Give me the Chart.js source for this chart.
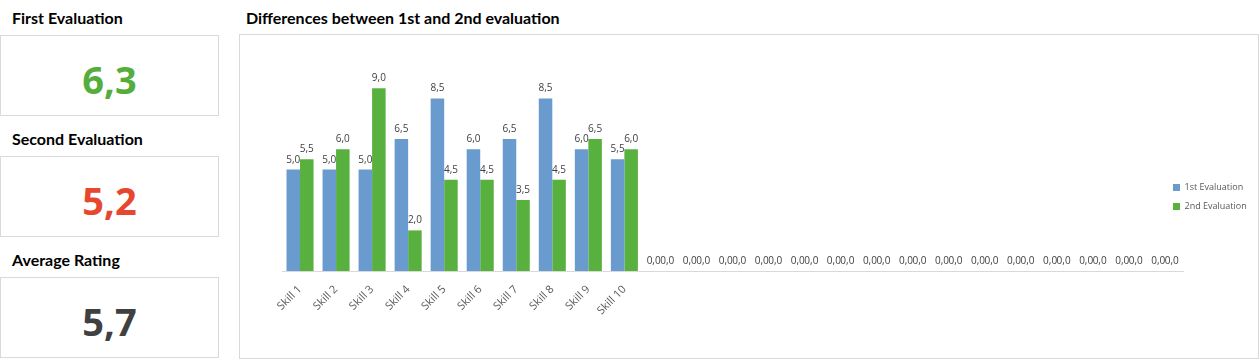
<!DOCTYPE html>
<html>
<head>
<meta charset="utf-8">
<script src="https://cdn.jsdelivr.net/npm/chart.js@4/dist/chart.umd.min.js"></script>
<style>
  body { margin: 0; background: #fff; width: 1260px; height: 360px; overflow: hidden; position: relative; font-family: "Open Sans", sans-serif; }
  .title { position: absolute; font-family: Lato, sans-serif; font-weight: 700; font-size: 16px; color: #000; line-height: 18px; }
  .kpi { position: absolute; left: 0; width: 217px; border: 1px solid #d9d9d9; text-align: center; font-family: "Open Sans", sans-serif; font-weight: 700; font-size: 38px; line-height: 79px; padding-top: 4px; height: 75px; }
  #panel { position: absolute; left: 239px; top: 34px; width: 1018px; height: 323px; border: 1px solid #d9d9d9; }
</style>
</head>
<body>
<div class="title" style="left:12px; top:9px;">First Evaluation</div>
<div class="kpi" id="kpi1" style="top:35px; color:#55ad3b;"></div>
<div class="title" style="left:12px; top:130px;">Second Evaluation</div>
<div class="kpi" id="kpi2" style="top:156px; color:#e8472f;"></div>
<div class="title" style="left:12px; top:251px;">Average Rating</div>
<div class="kpi" id="kpi3" style="top:277px; color:#404040;"></div>
<div class="title" style="left:246px; top:9px;">Differences between 1st and 2nd evaluation</div>
<div id="panel"><canvas id="chart1" width="1018" height="323"></canvas></div>

<script>
// chart data
var skills = ["Skill 1", "Skill 2", "Skill 3", "Skill 4", "Skill 5", "Skill 6", "Skill 7", "Skill 8", "Skill 9", "Skill 10",
    "", "", "", "", "", "", "", "", "", "", "", "", "", "", ""];
var firstEval = [5.0, 5.0, 5.0, 6.5, 8.5, 6.0, 6.5, 8.5, 6.0, 5.5, 0, 0, 0, 0, 0, 0, 0, 0, 0, 0, 0, 0, 0, 0, 0];
var secondEval = [5.5, 6.0, 9.0, 2.0, 4.5, 4.5, 3.5, 4.5, 6.5, 6.0, 0, 0, 0, 0, 0, 0, 0, 0, 0, 0, 0, 0, 0, 0, 0];
var seriesNames = ["1st Evaluation", "2nd Evaluation"];
var kpiValues = ["6,3", "5,2", "5,7"];

document.getElementById('kpi1').textContent = kpiValues[0];
document.getElementById('kpi2').textContent = kpiValues[1];
document.getElementById('kpi3').textContent = kpiValues[2];

function fmt(v) {
    return v.toFixed(1).replace('.', ',');
}

// value labels above each bar
var barLabels = {
    id: 'barLabels',
    afterDatasetsDraw: function(chart) {
        var ctx = chart.ctx;
        ctx.save();
        ctx.font = '10px "Open Sans", sans-serif';
        ctx.fillStyle = '#404040';
        ctx.textAlign = 'center';
        ctx.textBaseline = 'alphabetic';
        chart.data.datasets.forEach(function(ds, i) {
            var meta = chart.getDatasetMeta(i);
            meta.data.forEach(function(bar, j) {
                ctx.fillText(fmt(ds.data[j]), bar.x, bar.y - 7);
            });
        });
        ctx.restore();
    }
};

// excel lets the legend overlap the plot a bit: keep the legend box narrow,
// then widen/move it only while it is drawn
var legendShift = {
    id: 'legendShift',
    afterInit: function(chart) {
        var lg = chart.legend;
        var fit = lg.fit;
        lg.fit = function() {
            fit.apply(this, arguments);
            this.width = 75;
        };
        var draw = lg.draw;
        lg.draw = function() {
            var l = this.left, r = this.right, t = this.top, b = this.bottom, w = this.width;
            this.left = l - 20;
            this.right = chart.width;
            this.width = this.right - this.left;
            this.top = t - 16;
            this.bottom = b - 16;
            draw.apply(this, arguments);
            this.left = l; this.right = r; this.top = t; this.bottom = b; this.width = w;
        };
    }
};

var ctx1 = document.getElementById('chart1');
var chart1 = new Chart(ctx1, {
    type: 'bar',
    data: {
        labels: skills,
        datasets: [{
            label: seriesNames[0],
            data: firstEval,
            backgroundColor: '#6a9bcf',
            categoryPercentage: 0.75,
            barPercentage: 1.0
        }, {
            label: seriesNames[1],
            data: secondEval,
            backgroundColor: '#58b03f',
            categoryPercentage: 0.75,
            barPercentage: 1.0
        }]
    },
    options: {
        responsive: false,
        animation: false,
        layout: { padding: { left: 42, top: 33, right: 0, bottom: 0 } },
        plugins: {
            tooltip: { enabled: false },
            legend: {
                position: 'right',
                labels: {
                    boxWidth: 7,
                    boxHeight: 7,
                    padding: 10,
                    color: '#595959',
                    font: { family: '"Open Sans", sans-serif', size: 9 }
                }
            }
        },
        scales: {
            x: {
                grid: { display: false },
                border: { display: true, color: '#d9d9d9' },
                afterFit: function(scale) { scale.height = 87; },
                ticks: {
                    autoSkip: false,
                    minRotation: 45,
                    maxRotation: 45,
                    padding: 4,
                    color: '#595959',
                    font: { family: '"Open Sans", sans-serif', size: 11 }
                }
            },
            y: {
                display: false,
                min: 0,
                max: 10
            }
        }
    },
    plugins: [barLabels, legendShift]
});
</script>
</body>
</html>
